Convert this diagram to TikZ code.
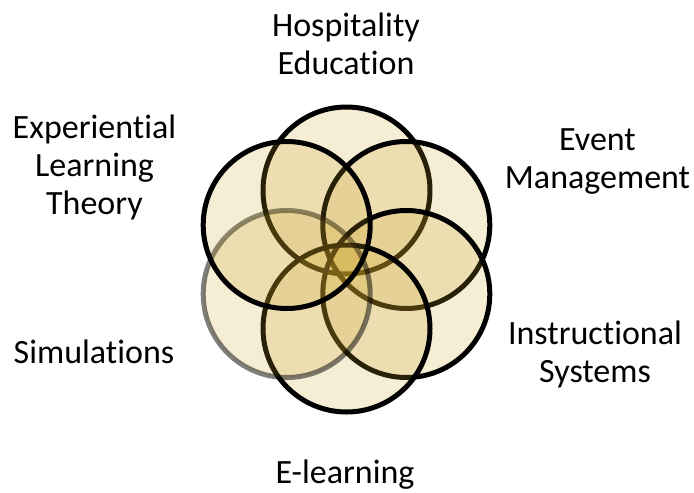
\documentclass[tikz,border=0pt]{standalone}
\usepackage{fontspec}
\setmainfont{Carlito}[Ligatures=CommonOff]
\definecolor{petalgold}{RGB}{205,164,40}
\tikzset{
	circlestyle/.style={circle,draw=black,line width=5pt,fill=petalgold,fill opacity=0.2,minimum size=167pt,inner sep=0pt},
	fadedstyle/.style={circlestyle,draw opacity=0.5},
	labelstyle/.style={align=center,inner sep=0pt,anchor=base,font=\fontsize{34}{38}\selectfont}
}
\begin{document}
\begin{tikzpicture}[x=1pt,y=-1pt]
	\useasboundingbox (0,0) rectangle (694,493);
	% petals, clockwise from the top one
	\node[circlestyle] (hosp) at (346.5,190.5) {};
	\node[circlestyle] (event) at (406.3,225) {};
	\node[circlestyle] (instr) at (406.3,294) {};
	\node[circlestyle] (elearn) at (346.5,328.5) {};
	\node[fadedstyle] (simul) at (286.7,294) {};
	\node[circlestyle] (exper) at (286.7,225) {};
	% labels (anchored on the last line)
	\node[labelstyle] (hosptext) at (346,74) {Hospitality\\Education};
	\node[labelstyle] (eventtext) at (597.5,188) {Event\\Management};
	\node[labelstyle] (instrtext) at (595,382) {Instructional\\Systems};
	\node[labelstyle] (elearntext) at (345,483) {E-learning};
	\node[labelstyle] (simultext) at (94,363) {Simulations};
	\node[labelstyle] (expertext) at (94.5,214) {Experiential\\Learning\\Theory};
\end{tikzpicture}
\end{document}
